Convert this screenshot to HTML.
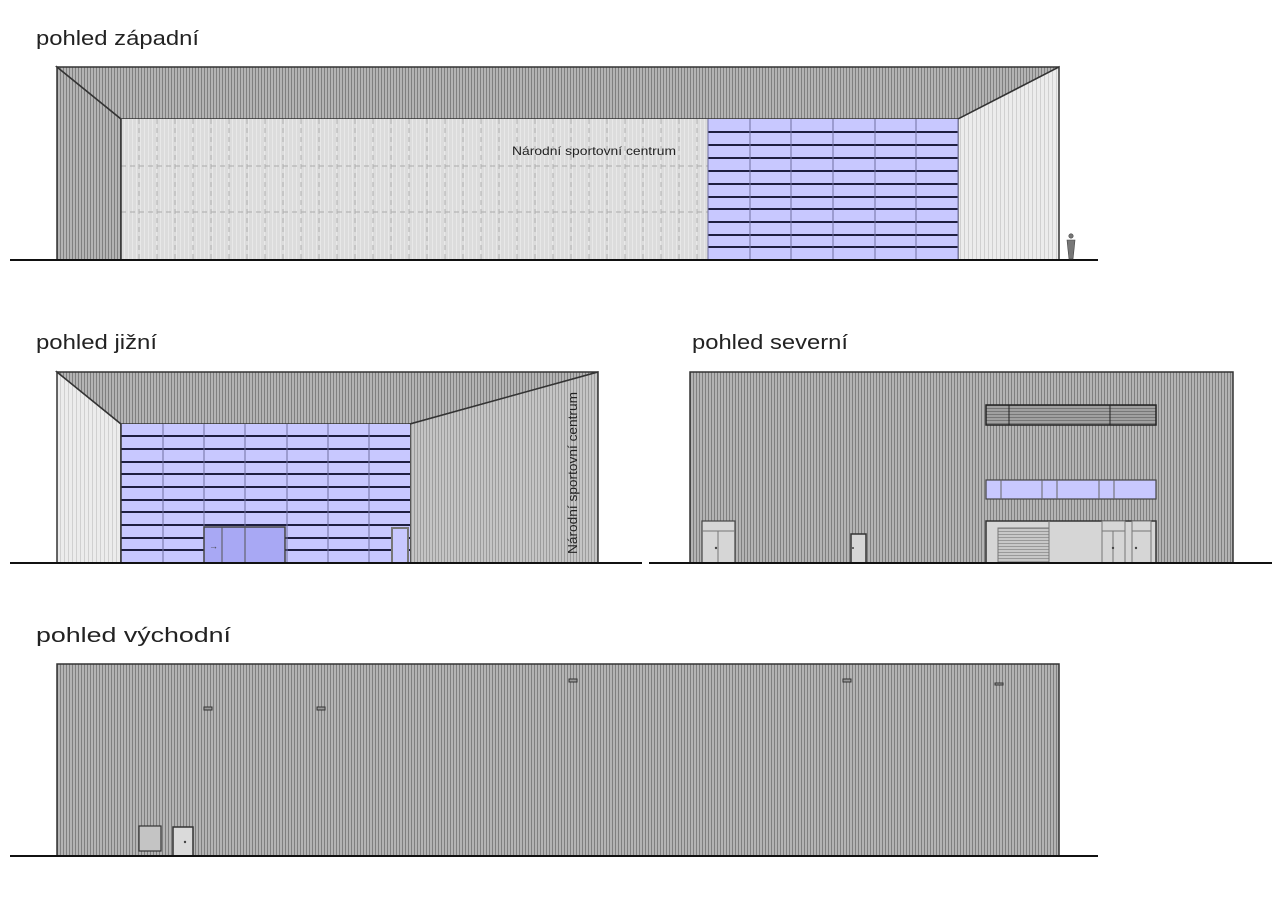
<!DOCTYPE html>
<html><head><meta charset="utf-8"><style>
html,body{margin:0;padding:0;background:#fff;}
svg{display:block;font-family:"Liberation Sans",sans-serif;}
</style></head><body>
<svg width="1287" height="920" viewBox="0 0 1287 920" xmlns="http://www.w3.org/2000/svg">
<defs>
<pattern id="dk" patternUnits="userSpaceOnUse" width="3" height="10"><rect width="3" height="10" fill="#b4b4b4"/><rect width="1" height="10" fill="#808080"/></pattern>
<pattern id="md" patternUnits="userSpaceOnUse" width="3" height="10"><rect width="3" height="10" fill="#c4c4c4"/><rect width="1" height="10" fill="#9c9c9c"/></pattern>
<pattern id="lt" patternUnits="userSpaceOnUse" width="4" height="10"><rect width="4" height="10" fill="#ececec"/><rect width="1" height="10" fill="#d0d0d0"/></pattern>
<pattern id="gr" patternUnits="userSpaceOnUse" width="4" height="10"><rect width="4" height="10" fill="#dcdcdc"/><rect width="1" height="10" fill="#e8e8e8"/></pattern>
<pattern id="hz" patternUnits="userSpaceOnUse" width="10" height="3"><rect width="10" height="3" fill="#a0a0a0"/><rect width="10" height="1" fill="#777"/></pattern>
<pattern id="hzl" patternUnits="userSpaceOnUse" width="10" height="3"><rect width="10" height="3" fill="#c8c8c8"/><rect width="10" height="1" fill="#999"/></pattern>
</defs>

<g fill="#222" font-size="20">
<text x="36" y="45" textLength="163" lengthAdjust="spacingAndGlyphs">pohled západní</text>
<text x="36" y="349" textLength="121" lengthAdjust="spacingAndGlyphs">pohled jižní</text>
<text x="692" y="349" textLength="156" lengthAdjust="spacingAndGlyphs">pohled severní</text>
<text x="36" y="642" textLength="195" lengthAdjust="spacingAndGlyphs">pohled východní</text>
</g>

<!-- WEST -->
<polygon points="57,67 121,119 121,260 57,260" fill="url(#dk)" stroke="#333" stroke-width="1.5"/>
<polygon points="57,67 1059,67 958,119 121,119" fill="url(#dk)" stroke="#333" stroke-width="1.5"/>
<polygon points="958,119 1059,67 1059,260 958,260" fill="url(#lt)" stroke="#333" stroke-width="1.5"/>
<rect x="121" y="119" width="587" height="141" fill="url(#gr)"/>
<g stroke="#aaa" stroke-width="1" stroke-dasharray="5,4">
<line x1="121" y1="166" x2="708" y2="166"/><line x1="121" y1="212" x2="708" y2="212"/>
</g>
<g stroke="#b0b0b0" stroke-width="1" stroke-dasharray="5,4" id="vd"></g>
<line x1="121" y1="119" x2="121" y2="260" stroke="#333" stroke-width="1.5"/>
<rect x="708" y="119" width="250" height="141" fill="#c8c8ff"/>
<g stroke="#1e1e40" stroke-width="2">
<line x1="708" y1="132" x2="958" y2="132"/><line x1="708" y1="145" x2="958" y2="145"/><line x1="708" y1="158" x2="958" y2="158"/><line x1="708" y1="171" x2="958" y2="171"/><line x1="708" y1="184" x2="958" y2="184"/><line x1="708" y1="197" x2="958" y2="197"/><line x1="708" y1="209" x2="958" y2="209"/><line x1="708" y1="222" x2="958" y2="222"/><line x1="708" y1="235" x2="958" y2="235"/><line x1="708" y1="247" x2="958" y2="247"/>
</g>
<g stroke="#7070a0" stroke-width="1">
<line x1="708" y1="119" x2="708" y2="260"/><line x1="750" y1="119" x2="750" y2="260"/><line x1="791" y1="119" x2="791" y2="260"/><line x1="833" y1="119" x2="833" y2="260"/><line x1="875" y1="119" x2="875" y2="260"/><line x1="916" y1="119" x2="916" y2="260"/><line x1="958" y1="119" x2="958" y2="260"/>
</g>
<text x="512" y="155" font-size="12" fill="#222" textLength="164" lengthAdjust="spacingAndGlyphs">Národní sportovní centrum</text>
<line x1="10" y1="260" x2="1098" y2="260" stroke="#111" stroke-width="2"/>
<g fill="#777" stroke="#444" stroke-width="0.6"><circle cx="1071" cy="236" r="2.2"/><path d="M1067,240 L1075,240 L1074,250 L1073,259 L1069,259 L1068,250 Z"/></g>

<!-- SOUTH -->
<polygon points="57,372 121,424 121,563 57,563" fill="url(#lt)" stroke="#333" stroke-width="1.5"/>
<polygon points="57,372 598,372 410,424 121,424" fill="url(#dk)" stroke="#333" stroke-width="1.5"/>
<polygon points="410,424 598,372 598,563 410,563" fill="url(#md)" stroke="#333" stroke-width="1.5"/>
<rect x="121" y="424" width="289" height="139" fill="#c8c8ff"/>
<g stroke="#1e1e40" stroke-width="2">
<line x1="121" y1="436" x2="410" y2="436"/><line x1="121" y1="449" x2="410" y2="449"/><line x1="121" y1="462" x2="410" y2="462"/><line x1="121" y1="474" x2="410" y2="474"/><line x1="121" y1="487" x2="410" y2="487"/><line x1="121" y1="500" x2="410" y2="500"/><line x1="121" y1="512" x2="410" y2="512"/><line x1="121" y1="525" x2="410" y2="525"/><line x1="121" y1="538" x2="410" y2="538"/><line x1="121" y1="550" x2="410" y2="550"/>
</g>
<g stroke="#7070a0" stroke-width="1">
<line x1="163" y1="424" x2="163" y2="563"/><line x1="204" y1="424" x2="204" y2="563"/><line x1="245" y1="424" x2="245" y2="563"/><line x1="287" y1="424" x2="287" y2="563"/><line x1="328" y1="424" x2="328" y2="563"/><line x1="369" y1="424" x2="369" y2="563"/>
</g>
<rect x="204" y="527" width="81" height="36" fill="#a8a8f4" stroke="#444" stroke-width="1.5"/>
<line x1="222" y1="527" x2="222" y2="563" stroke="#555"/><line x1="245" y1="527" x2="245" y2="563" stroke="#555"/>
<text x="209" y="549" font-size="9" fill="#444">→</text>
<rect x="392" y="528" width="16" height="35" fill="#c8c8ff" stroke="#777" stroke-width="2"/>
<line x1="121" y1="424" x2="121" y2="563" stroke="#333" stroke-width="1.5"/>
<text transform="translate(577,473) rotate(-90)" text-anchor="middle" font-size="13" fill="#222" textLength="162" lengthAdjust="spacingAndGlyphs">Národní sportovní centrum</text>
<line x1="10" y1="563" x2="642" y2="563" stroke="#111" stroke-width="2"/>

<!-- NORTH -->
<rect x="690" y="372" width="543" height="191" fill="url(#dk)" stroke="#333" stroke-width="1.5"/>
<rect x="986" y="405" width="170" height="20" fill="url(#hz)" stroke="#222" stroke-width="1.5"/>
<line x1="1009" y1="405" x2="1009" y2="425" stroke="#222"/><line x1="1110" y1="405" x2="1110" y2="425" stroke="#222"/>
<rect x="986" y="480" width="170" height="19" fill="#c8c8ff" stroke="#444" stroke-width="1.2"/>
<g stroke="#666"><line x1="1001" y1="480" x2="1001" y2="499"/><line x1="1042" y1="480" x2="1042" y2="499"/><line x1="1057" y1="480" x2="1057" y2="499"/><line x1="1099" y1="480" x2="1099" y2="499"/><line x1="1114" y1="480" x2="1114" y2="499"/></g>
<rect x="986" y="521" width="170" height="42" fill="#d6d6d6" stroke="#333" stroke-width="1.5"/>
<rect x="998" y="528" width="51" height="35" fill="url(#hzl)" stroke="#777"/>
<line x1="1049" y1="521" x2="1049" y2="563" stroke="#777"/>
<rect x="1102" y="521" width="23" height="42" fill="#d6d6d6" stroke="#777"/>
<rect x="1132" y="521" width="19" height="42" fill="#d6d6d6" stroke="#777"/>
<line x1="1102" y1="531" x2="1125" y2="531" stroke="#777"/><line x1="1132" y1="531" x2="1151" y2="531" stroke="#777"/>
<line x1="1113" y1="531" x2="1113" y2="563" stroke="#777"/>
<circle cx="1113" cy="548" r="1.2" fill="#444"/><circle cx="1136" cy="548" r="1.2" fill="#444"/>
<rect x="702" y="521" width="33" height="42" fill="#d6d6d6" stroke="#444" stroke-width="1.2"/>
<line x1="702" y1="531" x2="735" y2="531" stroke="#777"/><line x1="718" y1="531" x2="718" y2="563" stroke="#777"/>
<circle cx="716" cy="548" r="1.2" fill="#444"/>
<rect x="851" y="534" width="15" height="29" fill="#d6d6d6" stroke="#333" stroke-width="1.5"/>
<circle cx="853" cy="548" r="1" fill="#444"/>
<line x1="649" y1="563" x2="1272" y2="563" stroke="#111" stroke-width="2"/>

<!-- EAST -->
<rect x="57" y="664" width="1002" height="192" fill="url(#dk)" stroke="#333" stroke-width="1.5"/>
<g fill="#999" stroke="#333" stroke-width="1">
<rect x="204" y="707" width="8" height="3"/><rect x="317" y="707" width="8" height="3"/><rect x="569" y="679" width="8" height="3"/><rect x="843" y="679" width="8" height="3"/><rect x="995" y="683" width="8" height="2"/>
</g>
<rect x="139" y="826" width="22" height="25" fill="#c4c4c4" stroke="#333" stroke-width="1.2"/>
<rect x="173" y="827" width="20" height="29" fill="#dadada" stroke="#333" stroke-width="1.5"/>
<circle cx="185" cy="842" r="1.2" fill="#444"/>
<line x1="10" y1="856" x2="1098" y2="856" stroke="#111" stroke-width="2"/>
</svg>
<script>
(function(){var g=document.getElementById('vd');var s='';for(var x=139;x<708;x+=18){s+='<line x1="'+x+'" y1="119" x2="'+x+'" y2="260"/>';}g.innerHTML=s;})();
</script>
</body></html>
